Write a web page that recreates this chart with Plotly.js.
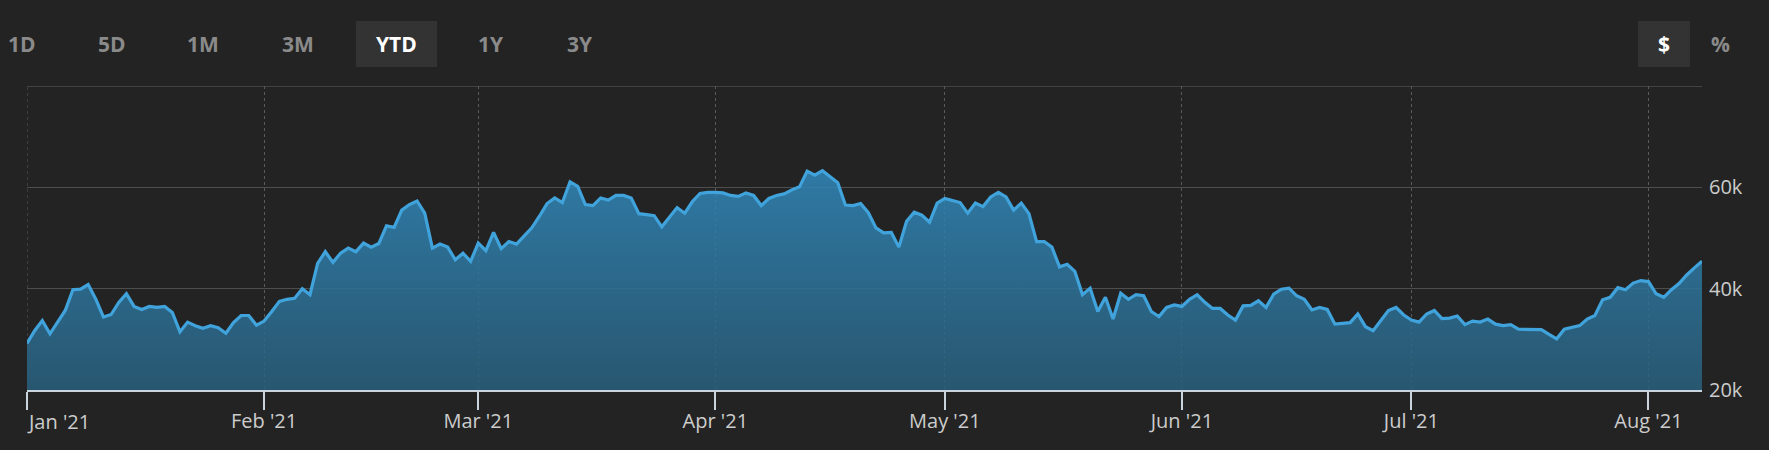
<!DOCTYPE html>
<html>
<head>
<meta charset="utf-8">
<script src="https://cdn.plot.ly/plotly-3.0.1.min.js"></script>
<style>
  html, body { margin: 0; padding: 0; background: #232323; }
  #chart { width: 1769px; height: 450px; }
</style>
</head>
<body>
<div id="chart"></div>
<script>
// ---- data (price in thousands of USD, one value per day) ----
const jan = [29.2, 31.7, 33.7, 31.1, 33.4, 35.7, 39.8, 39.9, 40.8, 37.9, 34.4, 34.9, 37.3, 39.0, 36.5, 35.9,
             36.5, 36.3, 36.5, 35.3, 31.5, 33.4, 32.7, 32.2, 32.7, 32.3, 31.2, 33.3, 34.7, 34.7, 32.8];
const feb = [33.6, 35.5, 37.5, 37.9, 38.1, 40.0, 38.8, 45.0, 47.3, 45.2, 47.0, 48.0, 47.3, 49.0, 48.2, 48.9,
             52.4, 52.1, 55.5, 56.6, 57.3, 54.9, 48.0, 48.8, 48.2, 45.7, 47.0, 45.4];
const mar = [49.0, 47.5, 51.1, 47.9, 49.3, 48.8, 50.4, 52.0, 54.3, 56.8, 57.9, 57.0, 61.1, 60.2, 56.6, 56.4,
             57.9, 57.5, 58.4, 58.4, 57.9, 54.8, 54.6, 54.4, 52.2, 54.2, 56.0, 54.9, 57.2, 58.8, 59.0];
const apr = [59.0, 58.9, 58.4, 58.2, 58.9, 58.4, 56.4, 57.8, 58.4, 58.7, 59.5, 60.1, 63.2, 62.4, 63.3, 62.0,
             60.9, 56.5, 56.4, 56.8, 55.0, 52.0, 51.0, 51.1, 48.2, 53.3, 55.1, 54.5, 53.1, 56.9];
const may = [57.8, 57.4, 57.0, 54.9, 56.9, 56.2, 58.1, 59.0, 58.1, 55.5, 56.9, 54.8, 49.3, 49.3, 48.2, 44.3,
             44.8, 43.4, 38.8, 40.1, 35.5, 38.3, 34.0, 39.1, 37.9, 38.8, 38.6, 35.5, 34.5, 36.3, 36.8];
const jun = [36.5, 37.9, 38.8, 37.3, 36.1, 36.1, 34.8, 33.8, 36.6, 36.7, 37.6, 36.3, 38.9, 39.9, 40.1, 38.6,
             37.9, 35.8, 36.3, 35.9, 33.0, 33.2, 33.3, 35.0, 32.5, 31.7, 33.8, 35.7, 36.3, 34.8];
const jul = [33.8, 33.4, 35.0, 35.7, 34.1, 34.2, 34.6, 32.9, 33.6, 33.4, 34.0, 33.0, 32.7, 32.9, 32.0, 32.0,
             32.0, 31.9, 31.0, 30.1, 32.0, 32.3, 32.7, 34.0, 34.7, 37.8, 38.3, 40.2, 39.8, 41.1, 41.6];
const aug = [41.4, 39.0, 38.3, 39.8, 41.0, 42.7, 44.1, 45.4];

const months = [['01', jan], ['02', feb], ['03', mar], ['04', apr], ['05', may], ['06', jun], ['07', jul], ['08', aug]];
const monthTicks = ['2021-01-01', '2021-02-01', '2021-03-01', '2021-04-01', '2021-05-01', '2021-06-01', '2021-07-01', '2021-08-01'];
const monthLabels = ["Jan '21", "Feb '21", "Mar '21", "Apr '21", "May '21", "Jun '21", "Jul '21", "Aug '21"];
const yTicks = [20, 40, 60, 80];
const yLabels = ['20k', '40k', '60k', ''];
const rangeButtons = ['1D', '5D', '1M', '3M', 'YTD', '1Y', '3Y'];
const activeRange = 'YTD';
const unitButtons = ['$', '%'];
const activeUnit = '$';

// ---- build series ----
const xs = [], ys = [];
months.forEach(([mm, vals]) => {
  vals.forEach((v, i) => {
    xs.push('2021-' + mm + '-' + String(i + 1).padStart(2, '0'));
    ys.push(v);
  });
});

// ---- layout geometry (pixels) ----
const W = 1769, H = 450;
const M = { l: 27, r: 67, t: 86, b: 60 };
const plotW = W - M.l - M.r, plotH = H - M.t - M.b;
const px = x => (x - M.l) / plotW;
const py = y => (H - M.b - y) / plotH;

const FONT = '"Open Sans", "Segoe UI", "Noto Sans", sans-serif';
const GRID = '#4e4e4e';
const rangeX = [22, 111.5, 202.5, 298, 396.5, 491, 580];
const unitX = [1664, 1721];
const btnY = 44;

const annotations = [];
const shapes = [];
rangeButtons.forEach((b, i) => {
  const active = b === activeRange;
  if (active) {
    shapes.push({ type: 'rect', xref: 'paper', yref: 'paper', layer: 'below',
      x0: px(356), x1: px(437), y0: py(67), y1: py(21),
      fillcolor: '#333333', line: { width: 0 } });
  }
  annotations.push({ text: b, xref: 'paper', yref: 'paper', x: px(rangeX[i]), y: py(btnY),
    xanchor: 'center', yanchor: 'middle', showarrow: false,
    font: { family: FONT, size: 21, weight: 700, color: active ? '#ffffff' : '#8a8a8a' } });
});
unitButtons.forEach((b, i) => {
  const active = b === activeUnit;
  if (active) {
    shapes.push({ type: 'rect', xref: 'paper', yref: 'paper', layer: 'below',
      x0: px(1638), x1: px(1690), y0: py(67), y1: py(21),
      fillcolor: '#333333', line: { width: 0 } });
  }
  annotations.push({ text: b, xref: 'paper', yref: 'paper', x: px(unitX[i]), y: py(btnY),
    xanchor: 'center', yanchor: 'middle', showarrow: false,
    font: { family: FONT, size: 21, weight: 700, color: active ? '#ffffff' : '#8a8a8a' } });
});
// first month label is pushed right so it stays inside the chart
annotations.push({ text: monthLabels[0], xref: 'x', yref: 'paper', x: monthTicks[0], y: py(421),
  xanchor: 'left', yanchor: 'middle', showarrow: false, xshift: -2,
  font: { family: FONT, size: 20, color: '#cccccc' } });

// grid lines that sit on the plot edges (top 80k line, Jan 1 dotted line)
shapes.push({ type: 'line', xref: 'paper', yref: 'y', x0: 0, x1: 1, y0: yTicks[3], y1: yTicks[3],
  layer: 'below', line: { color: GRID, width: 1.5 } });
shapes.push({ type: 'line', xref: 'x', yref: 'paper', x0: monthTicks[0], x1: monthTicks[0], y0: 0, y1: 1,
  layer: 'below', line: { color: '#5a5a5a', width: 1, dash: 'dot' } });

const trace = {
  type: 'scatter', mode: 'lines', x: xs, y: ys,
  line: { color: '#41a3dc', width: 3.2, shape: 'linear' },
  fill: 'tozeroy',
  fillgradient: { type: 'vertical', start: 20, stop: 64,
    colorscale: [[0, 'rgba(41,95,124,0.86)'], [1, 'rgba(49,136,187,0.86)']] },
  hoverinfo: 'x+y'
};

const layout = {
  width: W, height: H,
  margin: M,
  paper_bgcolor: '#232323', plot_bgcolor: '#232323',
  showlegend: false,
  font: { family: FONT, color: '#cccccc' },
  xaxis: {
    type: 'date', range: ['2021-01-01', '2021-08-08'],
    tickmode: 'array', tickvals: monthTicks, ticktext: [''].concat(monthLabels.slice(1)),
    ticks: 'outside', ticklen: 18, tickwidth: 2, tickcolor: '#c9d4df',
    ticklabelstandoff: -6,
    showline: true, linecolor: '#c9d4df', linewidth: 2,
    showgrid: true, gridcolor: '#5a5a5a', gridwidth: 1, griddash: 'dot',
    zeroline: false, fixedrange: true,
    tickfont: { family: FONT, size: 20, color: '#cccccc' }
  },
  yaxis: {
    range: [20, 80], side: 'right',
    tickmode: 'array', tickvals: yTicks, ticktext: yLabels,
    showgrid: true, gridcolor: GRID, gridwidth: 1.5,
    zeroline: false, showline: false, ticks: '', ticklabelstandoff: 6,
    fixedrange: true,
    tickfont: { family: FONT, size: 20, color: '#cccccc' }
  },
  shapes: shapes,
  annotations: annotations
};

Plotly.newPlot('chart', [trace], layout, { displayModeBar: false, staticPlot: true });
</script>
</body>
</html>
